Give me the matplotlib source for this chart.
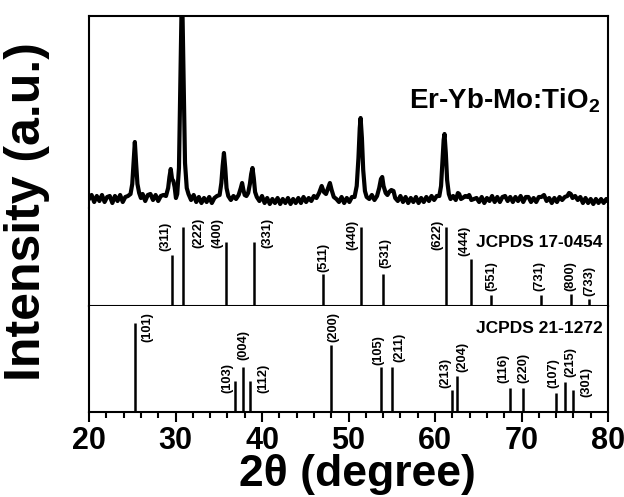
#!/usr/bin/env python3
"""XRD pattern of Er-Yb-Mo:TiO2 with two JCPDS reference stick panels."""

import matplotlib

matplotlib.use("Agg")
import matplotlib.pyplot as plt
from matplotlib.ticker import MultipleLocator


PATTERN_2THETA = [
    20.0, 20.3, 20.6, 20.9, 21.2, 21.5, 21.8, 22.1, 22.4, 22.7, 23.0, 23.3, 23.6, 23.9, 24.2, 24.5,
    24.8, 25.0, 25.15, 25.3, 25.45, 25.6, 25.8, 26.0,
    26.2, 26.5, 26.8, 27.1, 27.4, 27.7, 28.0, 28.3, 28.6, 28.9,
    29.15, 29.3, 29.45, 29.6, 29.75, 29.9, 30.05, 30.2, 30.4, 30.55, 30.7, 30.8, 30.95, 31.1, 31.3, 31.5,
    31.8, 32.1, 32.4, 32.7, 33.0, 33.3, 33.6, 33.9, 34.2, 34.5, 34.8, 35.1,
    35.3, 35.45, 35.6, 35.75, 35.9, 36.1, 36.4, 36.7, 37.0, 37.3,
    37.55, 37.7, 37.85, 38.0, 38.2, 38.4, 38.6, 38.75, 38.9, 39.05, 39.2, 39.4,
    39.7, 40.0, 40.3, 40.6, 40.9, 41.2, 41.5, 41.8, 42.1, 42.4, 42.7, 43.0, 43.3, 43.6, 43.9,
    44.2, 44.5, 44.8, 45.1, 45.4, 45.7, 46.0, 46.3,
    46.6, 46.9, 47.15, 47.4, 47.65, 47.85, 48.05, 48.3, 48.6,
    48.9, 49.2, 49.5, 49.8, 50.1, 50.4, 50.7,
    50.95, 51.15, 51.3, 51.4, 51.55, 51.7, 51.9, 52.1, 52.4, 52.7, 53.0, 53.3,
    53.55, 53.75, 53.9, 54.05, 54.3, 54.5, 54.7, 54.95, 55.2, 55.4,
    55.7, 56.0, 56.3, 56.6, 56.9, 57.2, 57.5, 57.8, 58.1, 58.4, 58.7, 59.0, 59.3, 59.6, 59.9, 60.2, 60.5,
    60.7, 60.85, 61.0, 61.1, 61.25, 61.4, 61.6, 61.8, 62.1, 62.4,
    62.65, 62.8, 63.0, 63.2, 63.5, 63.75, 63.95, 64.2, 64.5, 64.8,
    65.1, 65.4, 65.7, 66.0, 66.3, 66.6, 66.9, 67.2, 67.5, 67.8, 68.1, 68.4, 68.7, 69.0, 69.3, 69.6,
    69.9, 70.2, 70.5, 70.8, 71.1, 71.4, 71.7, 72.0, 72.3, 72.6, 72.9, 73.2, 73.5, 73.8, 74.1, 74.4,
    74.7, 75.0, 75.3, 75.5, 75.7, 75.9, 76.2, 76.5, 76.8, 77.1, 77.4, 77.7, 78.0, 78.3, 78.6, 78.9,
    79.2, 79.5, 79.8, 80.0,
]
PATTERN_INTENSITY = [
    9, 13, 6, 12, 7, 13, 6, 11, 12, 5, 12, 7, 13, 6, 11, 12,
    14, 24, 45, 66, 44, 24, 15, 10,
    14, 7, 13, 14, 8, 13, 7, 12, 13, 12,
    20, 31, 39, 29, 27, 21, 10, 14, 40, 120, 200, 200, 120, 45, 20, 14,
    8, 13, 6, 11, 5, 10, 6, 11, 5, 10, 12, 13,
    25, 42, 55, 40, 20, 12, 8, 12, 9, 13,
    20, 25, 18, 13, 12, 15, 24, 34, 40, 30, 16, 11,
    7, 12, 5, 10, 4, 9, 5, 10, 4, 9, 5, 10, 4, 9, 5,
    10, 5, 11, 6, 10, 7, 12, 10,
    15, 22, 16, 14, 20, 25, 18, 11, 9,
    6, 11, 5, 10, 6, 11, 11,
    22, 50, 80, 90, 70, 38, 17, 11, 9, 13, 8, 12,
    20, 29, 31, 22, 15, 13, 16, 18, 17, 10,
    7, 12, 6, 11, 5, 10, 6, 11, 5, 10, 6, 11, 7, 12, 8, 12, 12,
    22, 45, 68, 74, 55, 28, 14, 9, 12, 8,
    15, 14, 9, 10, 12, 11, 13, 8, 9, 10,
    6, 11, 5, 10, 7, 12, 6, 11, 6, 11, 12, 7, 11, 6, 11, 7,
    12, 6, 11, 11, 6, 10, 6, 11, 11, 13, 7, 10, 5, 10, 6, 11,
    8, 11, 12, 15, 14, 10, 12, 8, 11, 5, 10, 5, 9, 4, 9, 5,
    9, 5, 9, 7,
]
SAMPLE_LABEL = "Er-Yb-Mo:TiO$_2$"

# ---- JCPDS 17-0454 reference lines ----
REF1_NAME = "JCPDS 17-0454"
REF1_2THETA = [29.6, 30.9, 35.8, 39.1, 47.1, 51.5, 54.0, 61.3, 64.2, 66.5, 72.2, 75.7, 77.8]
REF1_INTENSITY = [65, 100, 81, 81, 40, 100, 40, 100, 60, 14, 14, 15, 9]
REF1_HKL = ["(311)", "(222)", "(400)", "(331)", "(511)", "(440)", "(531)",
            "(622)", "(444)", "(551)", "(731)", "(800)", "(733)"]

# ---- JCPDS 21-1272 reference lines ----
REF2_NAME = "JCPDS 21-1272"
REF2_2THETA = [25.3, 36.9, 37.8, 38.6, 48.0, 53.8, 55.0, 62.0, 62.6, 68.7, 70.2, 74.0, 75.0, 75.9]
REF2_INTENSITY = [100, 35, 51, 35, 75, 51, 51, 25, 40, 27, 27, 21, 34, 25]
REF2_HKL = ["(101)", "(103)", "(004)", "(112)", "(200)", "(105)", "(211)",
            "(213)", "(204)", "(116)", "(220)", "(107)", "(215)", "(301)"]

# label nudges in pixels (dx, dy from stick top) so they sit like the original
REF1_NUDGE = [(-7, 4), (15, -21), (-8, -6), (13, -6), (0, 2), (-9, -23), (2, 6),
              (-9, -23), (-7, 3), (0, 4), (-1, 4), (0, 3), (0, 3)]
REF2_NUDGE = [(13, -19), (-8, -12), (0, 7), (13, -12), (2, 3), (-3, 2), (8, 5),
              (-7, 2), (5, 4), (-7, 5), (0, 5), (-3, 5), (6, 5), (14, -7)]

W, H = 624, 497
PX = 72 / 100  # points per pixel at dpi 100
FRAME_LW = 1.5


def px_axes(fig, left, top, right, bottom):
    return fig.add_axes([left / W, 1 - bottom / H, (right - left) / W, (bottom - top) / H])


def sticks(ax, pos, inten, hkl, nudge, top):
    ax.vlines(pos, 0, inten, color="black", lw=1.8)
    for x, y, s, (dx, dy) in zip(pos, inten, hkl, nudge):
        ax.annotate(s, xy=(x, y), xytext=(dx * PX, dy * PX), textcoords="offset points",
                    rotation=90, ha="center", va="bottom", fontsize=9.3, fontweight="bold")
    ax.set_ylim(0, top)


def main():
    plt.rcParams.update({
        "font.family": "Liberation Sans",
        "font.weight": "bold",
        "mathtext.fontset": "custom",
        "mathtext.rm": "Liberation Sans:bold",
        "mathtext.it": "Liberation Sans:bold",
        "mathtext.bf": "Liberation Sans:bold",
    })

    fig = plt.figure(figsize=(W / 100, H / 100), dpi=100)
    ax_top = px_axes(fig, 89, 16, 608, 208)
    ax_mid = px_axes(fig, 89, 208, 608, 306)
    ax_bot = px_axes(fig, 89, 306, 608, 412)

    # measured pattern
    ax_top.plot(PATTERN_2THETA, PATTERN_INTENSITY, color="black", lw=3.0)
    ax_top.set_ylim(0, 192)
    ax_top.text(0.985, 0.52, SAMPLE_LABEL, transform=ax_top.transAxes, ha="right",
                va="baseline", fontsize=20, fontweight="bold")

    sticks(ax_mid, REF1_2THETA, REF1_INTENSITY, REF1_HKL, REF1_NUDGE, 124.4)
    ax_mid.text(0.99, 0.643, REF1_NAME, transform=ax_mid.transAxes, ha="right",
                va="center", fontsize=12.5, fontweight="bold")

    sticks(ax_bot, REF2_2THETA, REF2_INTENSITY, REF2_HKL, REF2_NUDGE, 119)
    ax_bot.text(0.99, 0.79, REF2_NAME, transform=ax_bot.transAxes, ha="right",
                va="center", fontsize=12.5, fontweight="bold")

    for ax in (ax_top, ax_mid, ax_bot):
        ax.set_xlim(20, 80)
        ax.set_yticks([])
        for sp in ax.spines.values():
            sp.set_linewidth(FRAME_LW)
    ax_top.spines["bottom"].set_visible(False)
    ax_mid.spines["top"].set_visible(False)
    ax_bot.spines["top"].set_visible(False)
    for ax in (ax_top, ax_mid):
        ax.set_xticks([])

    ax_bot.xaxis.set_major_locator(MultipleLocator(10))
    ax_bot.xaxis.set_minor_locator(MultipleLocator(2))
    ax_bot.tick_params(axis="x", which="major", direction="out", length=7, width=1.5,
                       pad=3, labelsize=22)
    ax_bot.tick_params(axis="x", which="minor", direction="out", length=4, width=1.5)
    for lab in ax_bot.get_xticklabels():
        lab.set_fontweight("bold")

    fig.text(357 / W, 1 - 486 / H, "2θ (degree)", ha="center", va="baseline",
             fontsize=32, fontweight="bold")
    fig.text(27 / W, 1 - 212 / H, "Intensity (a.u.)", ha="center", va="center",
             rotation=90, fontsize=36, fontweight="bold")

    fig.savefig("out.png", dpi=100)
    plt.close(fig)


if __name__ == "__main__":
    main()
